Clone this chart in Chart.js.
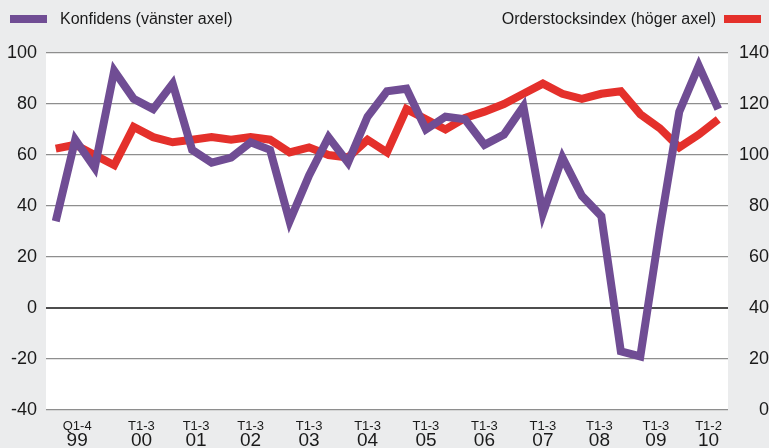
<!DOCTYPE html>
<html>
<head>
<meta charset="utf-8">
<script src="https://cdn.jsdelivr.net/npm/chart.js@4.4.1/dist/chart.umd.min.js"></script>
<style>
  html, body { margin: 0; padding: 0; background: #ebeced; }
  #wrap { position: relative; width: 769px; height: 448px; font-family: 'Liberation Sans', Arial, sans-serif; overflow: hidden; }
  #chart { position: absolute; left: 0; top: 0; }
  .leg { position: absolute; top: 9px; font-size: 16px; line-height: 20px; color: #1a1a1a; white-space: nowrap; }
  .sw { position: absolute; top: 15px; width: 37px; height: 8px; }
</style>
</head>
<body>
<div id="wrap">
  <canvas id="chart" width="769" height="448"></canvas>
  <span class="sw" style="left:10px;background:#704d94"></span>
  <span class="leg" id="leg-left" style="left:60px"></span>
  <span class="leg" id="leg-right" style="right:53px"></span>
  <span class="sw" style="left:724px;background:#e4302b"></span>
</div>
<script>
// Series (one value per period: 1999 x3, 2000-2009 tertials, 2010 T1-2)
const konfidens = [34, 66, 55, 93, 82, 78, 88, 62, 57, 59, 65, 62, 34, 52, 67, 57, 75, 85,
    86, 70, 75, 74, 64, 68, 79, 37, 59, 44, 36, -17, -19, 31, 77, 95, 78];
const orderstock = [102.5, 104, 100, 96, 111, 107, 105, 106, 107, 106, 107, 106, 101, 103, 100, 99, 106, 101,
    118, 114, 110, 114.5, 117, 120, 124, 128, 124, 122, 124, 125, 116, 110.5, 103, 108, 114];

// x-axis labels (period line + year line) and where they sit on the period index scale
const periodLabels = ['Q1-4', 'T1-3', 'T1-3', 'T1-3', 'T1-3', 'T1-3', 'T1-3', 'T1-3', 'T1-3', 'T1-3', 'T1-3', 'T1-2'];
const yearLabels = ['99', '00', '01', '02', '03', '04', '05', '06', '07', '08', '09', '10'];
const yearTickPos = [1.1, 4.4, 7.2, 10, 13, 16, 19, 22, 25, 27.9, 30.8, 33.5];

const legendLeft = 'Konfidens (vänster axel)';
const legendRight = 'Orderstocksindex (höger axel)';

const FONT = "'Liberation Sans', Arial, sans-serif";
const PURPLE = '#704d94';
const RED = '#e4302b';

document.getElementById('leg-left').textContent = legendLeft;
document.getElementById('leg-right').textContent = legendRight;

const toPoints = arr => arr.map((v, i) => ({ x: i, y: v }));

// white plot background
const plotBg = {
    id: 'plotBg',
    beforeDraw(chart) {
        const { ctx, chartArea: a } = chart;
        ctx.save();
        ctx.fillStyle = '#ffffff';
        ctx.fillRect(a.left, a.top, a.right - a.left, a.bottom - a.top);
        ctx.restore();
    }
};

// two-line x labels, small period text above larger year text
const yearAxisLabels = {
    id: 'yearAxisLabels',
    afterDraw(chart) {
        const { ctx } = chart;
        const xs = chart.scales.x;
        ctx.save();
        ctx.fillStyle = '#1a1a1a';
        ctx.textAlign = 'center';
        ctx.textBaseline = 'middle';
        yearTickPos.forEach((pos, i) => {
            const px = xs.getPixelForValue(pos);
            ctx.font = '13px ' + FONT;
            ctx.fillText(periodLabels[i], px, 426);
            ctx.font = '19px ' + FONT;
            ctx.fillText(yearLabels[i], px, 441);
        });
        ctx.restore();
    }
};

new Chart(document.getElementById('chart'), {
    type: 'line',
    data: {
        datasets: [{
            label: legendLeft,
            data: toPoints(konfidens),
            yAxisID: 'y',
            borderColor: PURPLE,
            borderWidth: 8,
            borderJoinStyle: 'miter',
            pointRadius: 0,
            tension: 0
        }, {
            label: legendRight,
            data: toPoints(orderstock),
            yAxisID: 'y2',
            borderColor: RED,
            borderWidth: 8,
            borderJoinStyle: 'miter',
            pointRadius: 0,
            tension: 0
        }]
    },
    options: {
        responsive: false,
        devicePixelRatio: 1,
        animation: false,
        layout: { padding: { top: 53, left: 0, right: 0, bottom: 0 } },
        plugins: { legend: { display: false }, tooltip: { enabled: false } },
        scales: {
            x: {
                type: 'linear',
                min: -0.5,
                max: 34.5,
                grid: { display: false, drawTicks: false },
                border: { display: false },
                ticks: { display: false },
                afterFit: s => { s.height = 38; }
            },
            y: {
                position: 'left',
                min: -40,
                max: 100,
                ticks: { stepSize: 20, padding: 9, color: '#1a1a1a', font: { family: FONT, size: 18 } },
                grid: {
                    drawTicks: false,
                    color: c => c.tick && c.tick.value === 0 ? '#4d4d4d' : '#8e8e8e',
                    lineWidth: c => c.tick && c.tick.value === 0 ? 2 : 1.2
                },
                border: { display: false },
                afterFit: s => { s.width = 46; }
            },
            y2: {
                position: 'right',
                min: 0,
                max: 140,
                ticks: { stepSize: 20, padding: 5, crossAlign: 'far', color: '#1a1a1a', font: { family: FONT, size: 18 } },
                grid: { display: false, drawTicks: false },
                border: { display: false },
                afterFit: s => { s.width = 41; }
            }
        }
    },
    plugins: [plotBg, yearAxisLabels]
});
</script>
</body>
</html>
